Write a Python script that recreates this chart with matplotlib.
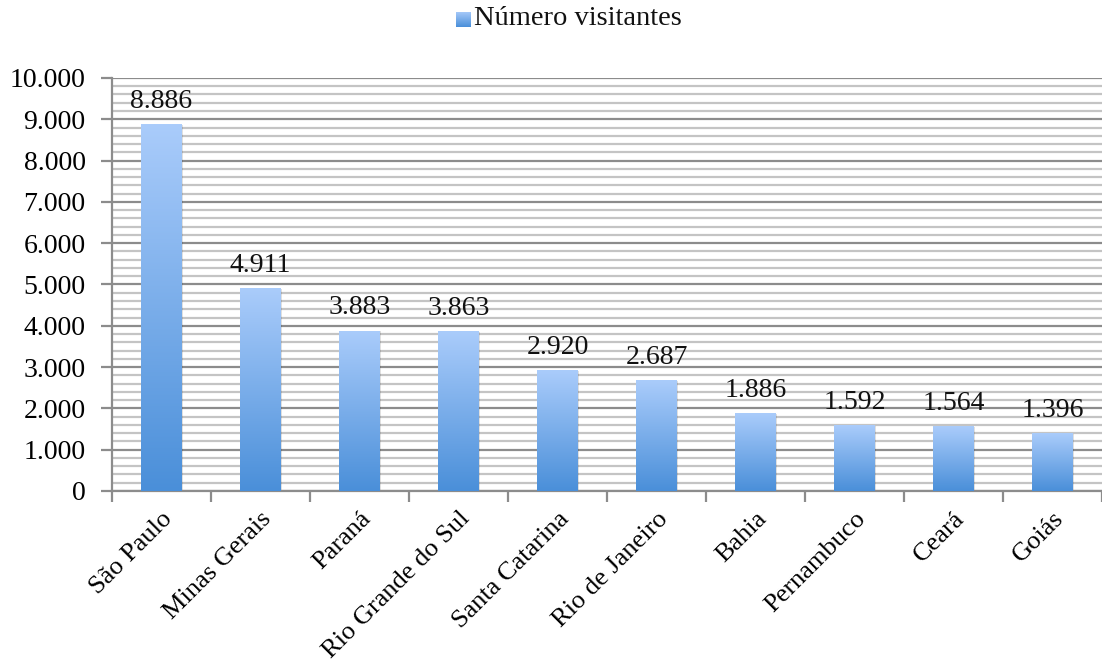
import numpy as np
import matplotlib.pyplot as plt
from matplotlib.colors import LinearSegmentedColormap
from matplotlib.ticker import MultipleLocator, FuncFormatter
from matplotlib.patches import Rectangle

states = ["São Paulo", "Minas Gerais", "Paraná", "Rio Grande do Sul",
          "Santa Catarina", "Rio de Janeiro", "Bahia", "Pernambuco",
          "Ceará", "Goiás"]
visitors = [8886, 4911, 3883, 3863, 2920, 2687, 1886, 1592, 1564, 1396]
series_name = "Número visitantes"

plt.rcParams["font.family"] = ["Liberation Serif", "DejaVu Serif"]
FS = 20

fig = plt.figure(figsize=(11.02, 6.71), dpi=100)
ax = fig.add_axes([0.1016, 0.2683, 0.8984, 0.6155])

grad = LinearSegmentedColormap.from_list("bar", ["#4a8fd9", "#aaccfb"])
gimg = np.linspace(0, 1, 256).reshape(-1, 1)
width = 0.41

x = np.arange(len(states))
for xi, v in zip(x, visitors):
    # soft shadow
    ax.add_patch(Rectangle((xi - width / 2 + 0.015, 0), width, v - 20,
                           facecolor="#000000", alpha=0.12, edgecolor="none",
                           zorder=2))
    # gradient bar: image clipped to the bar patch
    bar = ax.bar(xi, v, width=width, color="none", edgecolor="none", zorder=3)[0]
    im = ax.imshow(gimg, cmap=grad, aspect="auto", origin="lower",
                   extent=(xi - width / 2, xi + width / 2, 0, v), zorder=3)
    im.set_clip_path(bar)
    ax.text(xi, v + 250, f"{v:,}".replace(",", "."), ha="center", va="bottom",
            fontsize=FS, color="#111111", zorder=4)

ax.set_xlim(-0.5, len(states) - 0.5)
ax.set_ylim(0, 10000)

ax.yaxis.set_major_locator(MultipleLocator(1000))
ax.yaxis.set_minor_locator(MultipleLocator(200))
ax.yaxis.set_major_formatter(FuncFormatter(lambda v, p: f"{int(v):,}".replace(",", ".")))
ax.grid(axis="y", which="major", color="#8c8c8c", linewidth=1.6, zorder=0)
ax.grid(axis="y", which="minor", color="#c4c4c4", linewidth=1.6, zorder=0)
ax.set_axisbelow(True)

ax.set_xticks(x)
ax.set_xticklabels(states, rotation=45, ha="right", rotation_mode="anchor",
                   fontsize=19)
ax.set_xticks(np.arange(len(states) + 1) - 0.5, minor=True)
ax.tick_params(axis="x", which="major", length=0, pad=12)
ax.tick_params(axis="x", which="minor", length=8, width=1.6, color="#8c8c8c")
ax.tick_params(axis="y", which="major", length=8, width=1.6, color="#8c8c8c",
               labelsize=FS, pad=11)
ax.tick_params(axis="y", which="minor", length=0)

for s in ["top", "right"]:
    ax.spines[s].set_visible(False)
for s in ["left", "bottom"]:
    ax.spines[s].set_color("#8c8c8c")
    ax.spines[s].set_linewidth(1.6)

# legend
lx, ly = 0.4138, 0.972
lax = fig.add_axes([lx, ly - 0.012, 0.0136, 0.0224])
lax.imshow(gimg, cmap=grad, aspect="auto", origin="lower")
lax.axis("off")
fig.text(lx + 0.0165, ly, series_name, ha="left", va="center", fontsize=FS + 0.5,
         color="#111111")

fig.savefig("out.png", dpi=100)
